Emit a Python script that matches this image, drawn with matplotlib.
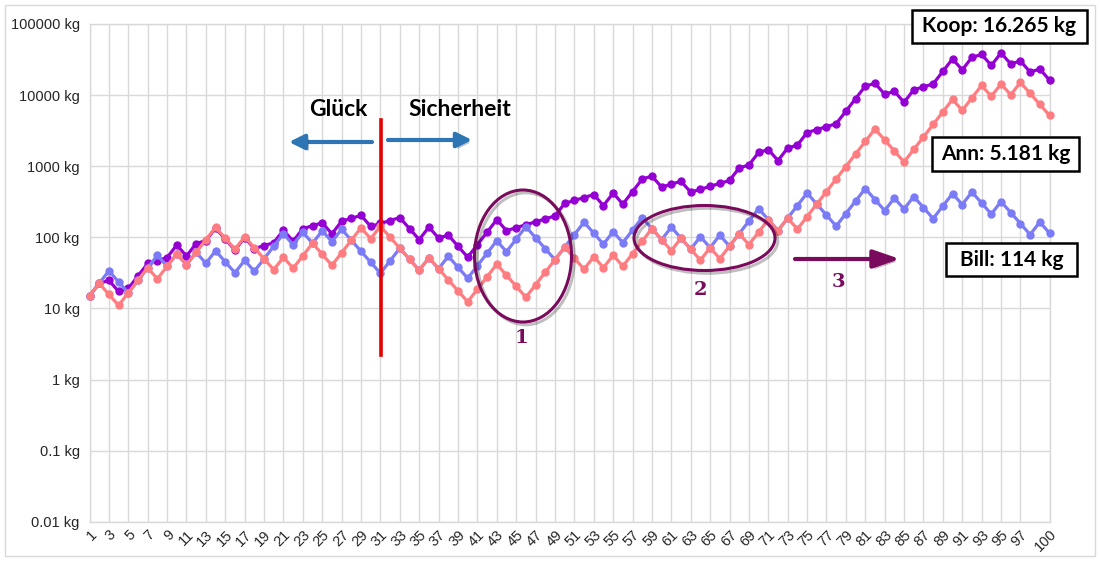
import matplotlib.pyplot as plt
from matplotlib.patches import Ellipse, Rectangle
import matplotlib.patheffects as pe

W, H = 1100, 561

# Daten (kg) je Runde
runde = list(range(1, 101))
ann = [15, 22.5, 15.75, 11.03, 16.54, 24.81, 37.21, 26.05, 39.07, 58.6,
       41.02, 61.53, 92.3, 138.45, 96.92, 67.84, 101.76, 71.23, 49.86, 34.9,
       52.35, 36.65, 54.97, 82.46, 57.72, 40.4, 60.61, 90.91, 136.36, 95.45,
       143.18, 100.23, 70.16, 49.11, 34.38, 51.57, 36.1, 25.27, 17.69, 12.38,
       18.57, 27.86, 41.79, 29.25, 20.48, 14.33, 21.5, 32.25, 48.38, 72.56,
       50.79, 35.55, 53.33, 37.33, 56.0, 39.2, 58.8, 88.2, 132.3, 92.61,
       64.83, 97.24, 68.07, 47.65, 71.47, 50.03, 75.05, 112.57, 78.8, 118.2,
       177.3, 124.11, 186.17, 130.32, 195.48, 293.22, 439.83, 659.74, 989.61, 1484.4,
       2226.6, 3339.9, 2337.9, 1636.5, 1145.6, 1718.4, 2577.6, 3866.4, 5799.6, 8699.4,
       6089.6, 9134.4, 13701.6, 9591.1, 14386.7, 10070.7, 15106.0, 10574.2, 7401.9, 5181.4]
bill = [15, 22.5, 33.75, 23.63, 16.54, 24.81, 37.21, 55.82, 39.07, 58.61,
        41.02, 61.53, 43.07, 64.61, 45.23, 31.66, 47.49, 33.24, 49.86, 74.79,
        112.19, 78.53, 117.8, 82.46, 123.69, 86.58, 129.87, 90.91, 63.64, 44.55,
        31.18, 46.77, 70.16, 49.11, 34.38, 51.57, 36.1, 54.15, 37.9, 26.53,
        39.8, 59.7, 89.55, 62.68, 94.03, 141.04, 98.73, 69.11, 48.38, 72.56,
        108.84, 163.27, 114.29, 80.0, 120.0, 84.0, 126.0, 189.0, 132.3, 92.61,
        138.92, 97.24, 68.07, 102.1, 71.47, 107.21, 75.05, 112.57, 168.86, 253.28,
        177.3, 124.11, 186.17, 279.25, 418.88, 293.22, 205.25, 143.68, 215.52, 323.27,
        484.91, 339.44, 237.61, 356.41, 249.49, 374.23, 261.96, 183.37, 275.06, 412.59,
        288.81, 433.22, 303.25, 212.28, 318.42, 222.89, 156.02, 109.22, 163.83, 114.68]
koop = [15, 22.5, 24.75, 17.33, 19.06, 28.59, 42.88, 47.17, 51.88, 77.83,
        54.48, 81.72, 89.89, 134.83, 94.38, 66.07, 99.1, 69.37, 76.31, 83.94,
        125.91, 88.14, 132.21, 145.43, 159.97, 111.98, 167.97, 184.77, 203.24, 142.27,
        156.5, 172.15, 189.36, 132.55, 92.79, 139.18, 97.43, 107.17, 75.02, 52.51,
        78.77, 118.15, 177.23, 124.06, 136.47, 150.11, 165.13, 181.64, 199.8, 299.7,
        329.67, 362.64, 398.91, 279.23, 418.85, 293.19, 439.79, 659.68, 725.65, 507.95,
        558.75, 614.62, 430.24, 473.26, 520.59, 572.65, 629.91, 944.87, 1039.4, 1559.0,
        1714.9, 1200.5, 1800.7, 1980.7, 2971.1, 3268.2, 3595.0, 3954.5, 5931.8, 8897.7,
        13347, 14681, 10277, 11305, 7913, 11870, 13057, 14363, 21544, 32316,
        22621, 33932, 37325, 26128, 39191, 27434, 30177, 21124, 23237, 16265]

xtick_labels = [str(i) for i in range(1, 98, 2)] + ['100']
ytick_vals = [0.01, 0.1, 1, 10, 100, 1000, 10000, 100000]
ytick_labels = ['0.01 kg', '0.1 kg', '1 kg', '10 kg', '100 kg', '1000 kg', '10000 kg', '100000 kg']

KOOP = '#9400d3'
ANN = '#ff7c80'
BILL = '#7b7bf7'
MARK = '#7a0a5c'
BLAU = '#2e75b6'
GRID = '#d9d9d9'

fig = plt.figure(figsize=(W / 100, H / 100), dpi=100)
L, R, T, B = 89.5, 1049.5, 24, 521.7
ax = fig.add_axes([L / W, 1 - B / H, (R - L) / W, (B - T) / H])


def P(px, py):
    # Pixel im Bild -> Achsenbruchteil
    return ((px - L) / (R - L), (B - py) / (B - T))


ax.plot(runde, koop, color=KOOP, lw=2.3, marker='o', ms=5, zorder=3, clip_on=False)
ax.plot(runde, bill, color=BILL, lw=2.3, marker='o', ms=5, zorder=4, clip_on=False)
ax.plot(runde, ann, color=ANN, lw=2.3, marker='o', ms=5, zorder=5, clip_on=False)

ax.set_yscale('log')
ax.set_ylim(0.01, 100000)
ax.set_xlim(1, 100)
ax.yaxis.set_minor_locator(plt.NullLocator())
ax.set_yticks(ytick_vals, ytick_labels)
xt = [int(s) for s in xtick_labels]
ax.set_xticks(xt, xtick_labels, rotation=45, ha='right', rotation_mode='anchor')
ax.tick_params(length=0, labelsize=10.5, colors='#262626')
ax.tick_params(axis='y', pad=7)
ax.tick_params(axis='x', pad=4)
for lab in ax.get_xticklabels() + ax.get_yticklabels():
    lab.set_fontfamily('Liberation Sans')
ax.grid(color=GRID, lw=1)
ax.set_axisbelow(True)
for s in ax.spines.values():
    s.set_color(GRID)
    s.set_linewidth(1)

shadow = [pe.SimplePatchShadow(offset=(2, -2), alpha=0.25), pe.Normal()]
line_shadow = [pe.SimpleLineShadow(offset=(2, -2), alpha=0.25), pe.Normal()]

# rote Trennlinie
x0 = P(381, 0)[0]
ax.plot([x0, x0], [P(0, 120)[1], P(0, 355)[1]], transform=ax.transAxes,
        color='#e60000', lw=2.6, zorder=6, clip_on=False)

# blaue Pfeile
for tail, tip in [((372, 142), (289, 142)), ((388, 140), (472, 140))]:
    a = ax.annotate('', xy=P(*tip), xytext=P(*tail), xycoords='axes fraction',
                    textcoords='axes fraction',
                    arrowprops=dict(arrowstyle='-|>,head_length=0.9,head_width=0.45',
                                    color=BLAU, lw=3, shrinkA=0, shrinkB=0))
    a.arrow_patch.set_path_effects(shadow)

ax.text(*P(338, 110), 'Glück', transform=ax.transAxes, ha='center', va='center',
        fontsize=16.5, fontweight='bold', family='Lato')
ax.text(*P(460, 110), 'Sicherheit', transform=ax.transAxes, ha='center', va='center',
        fontsize=16.5, fontweight='bold', family='Lato')

# Ellipsen
for (cx, cy, w, h) in [(523, 256, 97, 132), (704.5, 238, 141, 65)]:
    e = Ellipse(P(cx, cy), w / (R - L), h / (B - T), transform=ax.transAxes,
                fill=False, ec=MARK, lw=2.2, zorder=7, clip_on=False)
    e.set_path_effects(line_shadow)
    ax.add_patch(e)

# Pfeil 3
a3 = ax.annotate('', xy=P(900, 259), xytext=P(795, 259), xycoords='axes fraction',
                 textcoords='axes fraction',
                 arrowprops=dict(arrowstyle='-|>,head_length=1.6,head_width=0.55',
                                 color=MARK, lw=3, shrinkA=0, shrinkB=0))
a3.arrow_patch.set_path_effects(shadow)

for txt, (px, py) in [('1', (521, 338)), ('2', (700, 290)), ('3', (838, 282))]:
    ax.text(*P(px, py), txt, transform=ax.transAxes, ha='center', va='center',
            fontsize=14, fontweight='bold', family='DejaVu Serif', color=MARK)

# Endwerte in Kästen
boxes = [('Koop: 16.265 kg', (912, 10, 1087, 43)),
         ('Ann: 5.181 kg', (932, 137, 1079, 171)),
         ('Bill: 114 kg', (946, 243, 1077, 276))]
for txt, (x1, y1, x2, y2) in boxes:
    fig.patches.append(Rectangle((x1 / W, 1 - y2 / H), (x2 - x1) / W, (y2 - y1) / H,
                                 transform=fig.transFigure, fc='white', ec='black',
                                 lw=1.8, zorder=8))
    fig.text((x1 + x2) / 2 / W, 1 - (y1 + y2) / 2 / H, txt, ha='center', va='center',
             fontsize=15, fontweight='bold', family='Lato', zorder=9)

# Rahmen
fig.patches.append(Rectangle((5 / W, 5 / H), 1090 / W, 551 / H, transform=fig.transFigure,
                             fill=False, ec=GRID, lw=1, zorder=0))

fig.savefig('out.png', dpi=100)
